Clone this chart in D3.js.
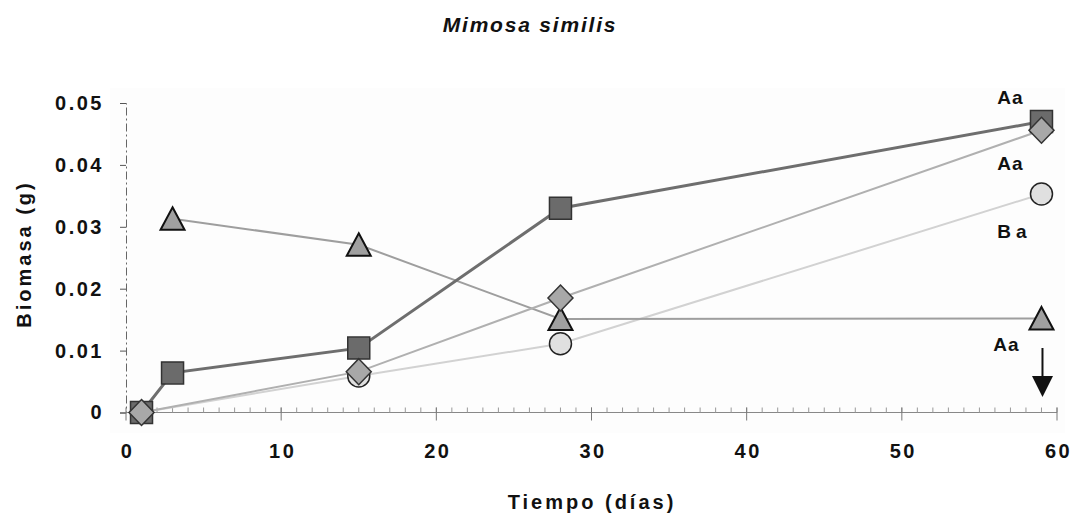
<!DOCTYPE html>
<html>
<head>
<meta charset="utf-8">
<script src="https://cdn.jsdelivr.net/npm/d3@7"></script>
<style>
  body { margin: 0; background: #fff; }
  text { font-family: "Liberation Sans", Arial, sans-serif; font-weight: bold; fill: #111; }
</style>
</head>
<body>
<script>
// data
var squareDays = [1, 3, 15, 28, 59],
    squareVals = [0, 0.0064, 0.0104, 0.033, 0.047];
var triangleDays = [3, 15, 28, 59],
    triangleVals = [0.0313, 0.0271, 0.0151, 0.0152];
var diamondDays = [1, 15, 28, 59],
    diamondVals = [0, 0.0066, 0.0185, 0.0456];
var circleDays = [1, 15, 28, 59],
    circleVals = [0, 0.0059, 0.0111, 0.0353];

var xTicks = [0, 10, 20, 30, 40, 50, 60];
var yTicks = [0, 0.01, 0.02, 0.03, 0.04, 0.05];
var endLabels = ["Aa", "Aa", "Ba", "Aa"]; // square, diamond, circle, triangle

var width = 1074, height = 517;

var x = d3.scaleLinear().domain([0, 60]).range([126, 1057]);
var y = d3.scaleLinear().domain([0, 0.05]).range([412.5, 103]);

var svg = d3.select("body").append("svg")
    .attr("width", width)
    .attr("height", height);

// faint plot area
svg.append("rect")
    .attr("x", 110).attr("y", 88)
    .attr("width", 955).attr("height", 345)
    .attr("fill", "#fdfdfd");

// title
svg.append("text")
    .attr("x", 530).attr("y", 32)
    .attr("text-anchor", "middle")
    .style("font-size", "21px")
    .style("font-style", "italic")
    .style("letter-spacing", "1.8px")
    .text("Mimosa similis");

// y axis (dash-dot line + ticks)
var yAxis = svg.append("g")
    .attr("transform", "translate(" + x(0) + ",0)")
    .call(d3.axisLeft(y).tickValues(yTicks).tickSize(6)
        .tickFormat(function(d) { return d === 0 ? "0" : d3.format(".2f")(d); }));
yAxis.select(".domain")
    .attr("stroke", "#666")
    .attr("stroke-dasharray", "8,3,2,3");
yAxis.selectAll(".tick line").attr("stroke", "#555");
yAxis.selectAll(".tick text")
    .attr("x", -22)
    .style("font-size", "20px")
    .style("letter-spacing", "2.5px")
    .style("font-family", "Liberation Sans, Arial, sans-serif")
    .style("font-weight", "bold")
    .attr("fill", "#111");

// x axis: minor ticks up, major ticks down
var xAxis = svg.append("g")
    .attr("transform", "translate(0," + y(0) + ")");
xAxis.append("line")
    .attr("x1", x(0)).attr("x2", x(60))
    .attr("stroke", "#888").attr("stroke-width", 1);
xAxis.selectAll("line.minor")
    .data(d3.range(1, 61))
    .enter().append("line")
    .attr("class", "minor")
    .attr("x1", function(d) { return x(d); })
    .attr("x2", function(d) { return x(d); })
    .attr("y1", -5).attr("y2", 0)
    .attr("stroke", "#999");
xAxis.selectAll("line.major")
    .data(xTicks)
    .enter().append("line")
    .attr("class", "major")
    .attr("x1", function(d) { return x(d); })
    .attr("x2", function(d) { return x(d); })
    .attr("y1", -5).attr("y2", 8)
    .attr("stroke", "#777");
xAxis.selectAll("text")
    .data(xTicks)
    .enter().append("text")
    .attr("x", function(d) { return x(d) + 1.5; })
    .attr("y", 45)
    .attr("text-anchor", "middle")
    .style("font-size", "20px")
    .style("letter-spacing", "2.5px")
    .text(function(d) { return d; });

// axis titles
svg.append("text")
    .attr("x", 592).attr("y", 509)
    .attr("text-anchor", "middle")
    .style("font-size", "20px")
    .style("letter-spacing", "3px")
    .text("Tiempo (días)");

svg.append("text")
    .attr("transform", "translate(31,254) rotate(-90)")
    .attr("text-anchor", "middle")
    .style("font-size", "20px")
    .style("letter-spacing", "3px")
    .text("Biomasa (g)");

function pts(days, vals) {
    return days.map(function(d, i) { return [d, vals[i]]; });
}
var line = d3.line()
    .x(function(d) { return x(d[0]); })
    .y(function(d) { return y(d[1]); });

var series = [
    { key: "circle",   data: pts(circleDays, circleVals),     line: "#d2d2d2", lw: 2,   fill: "#e0e0e0", stroke: "#222" },
    { key: "triangle", data: pts(triangleDays, triangleVals), line: "#9e9e9e", lw: 2,   fill: "#a0a0a0", stroke: "#111" },
    { key: "square",   data: pts(squareDays, squareVals),     line: "#6e6e6e", lw: 3,   fill: "#6b6b6b", stroke: "#333" },
    { key: "diamond",  data: pts(diamondDays, diamondVals),   line: "#b0b0b0", lw: 2,   fill: "#a8a8a8", stroke: "#333" }
];

// lines first
series.forEach(function(s) {
    svg.append("path")
        .datum(s.data)
        .attr("fill", "none")
        .attr("stroke", s.line)
        .attr("stroke-width", s.lw)
        .attr("d", line);
});

var shapes = {
    square: "M-11,-11H11V11H-11Z",
    diamond: "M0,-13L12.5,0L0,13L-12.5,0Z",
    triangle: "M0,-11.5L12,11H-12Z"
};

// markers
series.forEach(function(s) {
    var g = svg.append("g");
    if (s.key === "circle") {
        g.selectAll("circle").data(s.data).enter().append("circle")
            .attr("cx", function(d) { return x(d[0]); })
            .attr("cy", function(d) { return y(d[1]); })
            .attr("r", 11)
            .attr("fill", s.fill).attr("stroke", s.stroke).attr("stroke-width", 1.5);
    } else {
        g.selectAll("path").data(s.data).enter().append("path")
            .attr("transform", function(d) { return "translate(" + x(d[0]) + "," + y(d[1]) + ")"; })
            .attr("d", shapes[s.key])
            .attr("fill", s.fill).attr("stroke", s.stroke).attr("stroke-width", s.key === "triangle" ? 2 : 1.5);
    }
});

// letters at the last point of each series
var last = [
    { v: squareVals[squareVals.length - 1],     dx: -31, dy: -18 },
    { v: diamondVals[diamondVals.length - 1],   dx: -31, dy: 40 },
    { v: circleVals[circleVals.length - 1],     dx: -27, dy: 44 },
    { v: triangleVals[triangleVals.length - 1], dx: -35, dy: 33 }
];
last.forEach(function(l, i) {
    svg.append("text")
        .attr("x", x(59) + l.dx)
        .attr("y", y(l.v) + l.dy)
        .attr("text-anchor", "middle")
        .style("font-size", "19px")
        .style("letter-spacing", i === 2 ? "5px" : "1px")
        .text(endLabels[i]);
});

// downward arrow under the triangle series
var ax = x(59) + 1;
svg.append("line")
    .attr("x1", ax).attr("x2", ax)
    .attr("y1", 348).attr("y2", 380)
    .attr("stroke", "#111").attr("stroke-width", 2);
svg.append("path")
    .attr("d", "M" + (ax - 10.5) + ",376L" + (ax + 10.5) + ",376L" + ax + ",397Z")
    .attr("fill", "#111");
</script>
</body>
</html>
